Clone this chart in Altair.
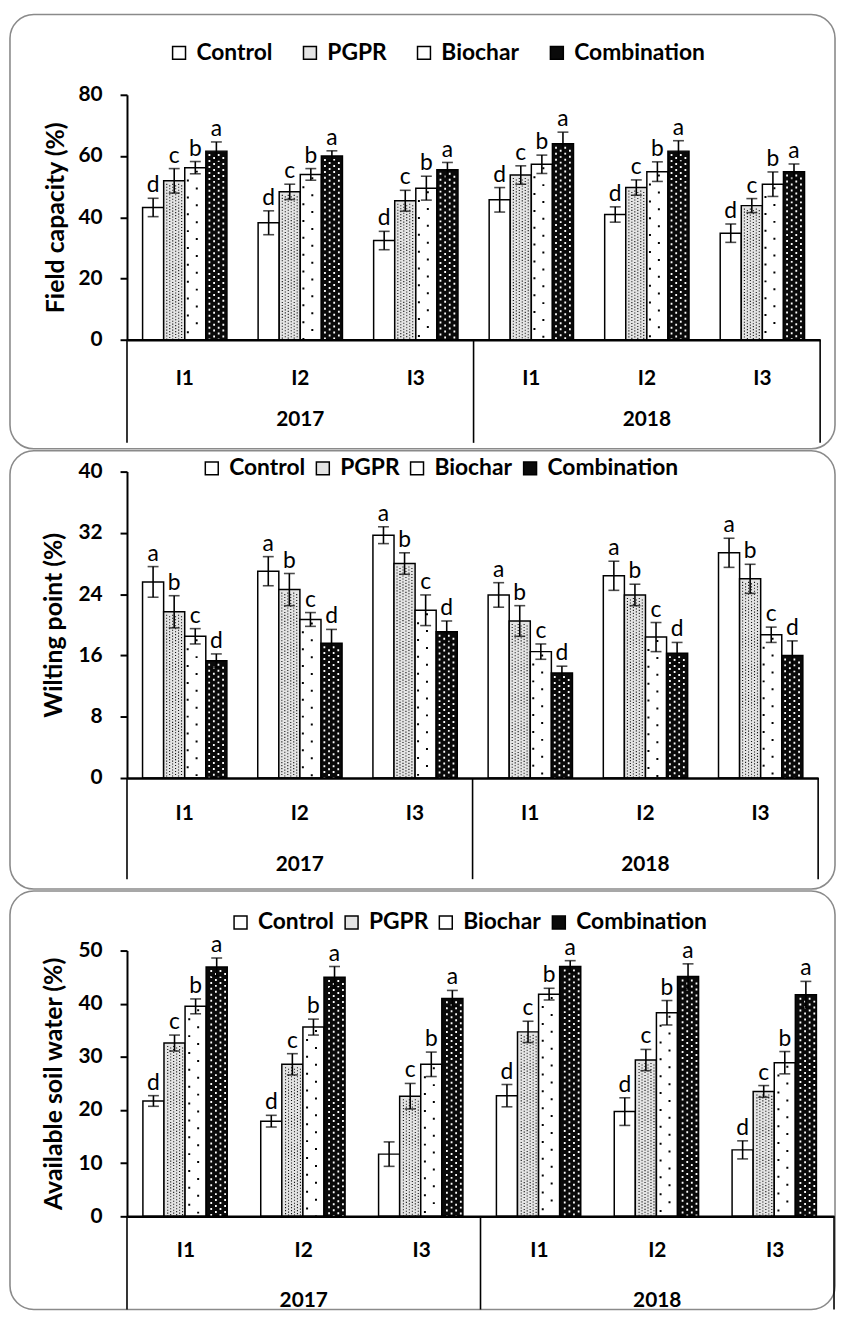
import altair as alt
import pandas as pd

years = ["2017", "2018"]
levels = ["I1", "I2", "I3"]
treatments = ["Control", "PGPR", "Biochar", "Combination"]
fills = ["#ffffff", "#e4e4e4", "#ffffff", "#0a0a0a"]

# Field capacity (%) : 2017 I1, I2, I3, 2018 I1, I2, I3
fc_mean = {
    "Control": [43.2, 38.2, 32.4, 45.7, 40.9, 34.8],
    "PGPR": [51.9, 48.3, 45.4, 53.8, 49.7, 43.8],
    "Biochar": [56.2, 54.0, 49.5, 57.3, 54.9, 50.8],
    "Combination": [61.6, 60.0, 55.5, 64.0, 61.6, 54.9],
}
fc_err = {
    "Control": [3.0, 3.9, 3.0, 4.0, 2.5, 3.0],
    "PGPR": [4.0, 2.5, 3.4, 3.0, 2.5, 2.3],
    "Biochar": [2.0, 1.9, 3.9, 3.0, 3.2, 4.0],
    "Combination": [3.0, 1.7, 2.4, 3.8, 3.4, 2.5],
}
fc_letters = {
    "Control": ["d"] * 6,
    "PGPR": ["c"] * 6,
    "Biochar": ["b"] * 6,
    "Combination": ["a"] * 6,
}

# Wilting point (%)
wp_mean = {
    "Control": [25.6, 27.0, 31.7, 23.9, 26.4, 29.4],
    "PGPR": [21.7, 24.6, 28.0, 20.5, 23.9, 26.0],
    "Biochar": [18.5, 20.7, 21.9, 16.5, 18.4, 18.7],
    "Combination": [15.3, 17.6, 19.1, 13.7, 16.3, 16.0],
}
wp_err = {
    "Control": [2.0, 1.9, 1.1, 1.6, 1.9, 1.9],
    "PGPR": [2.1, 2.1, 1.4, 2.0, 1.4, 1.9],
    "Biochar": [1.0, 0.9, 2.0, 1.0, 1.9, 1.0],
    "Combination": [0.9, 1.8, 1.4, 0.9, 1.4, 1.9],
}
wp_letters = {
    "Control": ["a"] * 6,
    "PGPR": ["b"] * 6,
    "Biochar": ["c"] * 6,
    "Combination": ["d"] * 6,
}

# Available soil water (%)
asw_mean = {
    "Control": [21.7, 17.9, 11.7, 22.7, 19.7, 12.5],
    "PGPR": [32.6, 28.6, 22.6, 34.7, 29.4, 23.5],
    "Biochar": [39.5, 35.6, 28.6, 41.8, 38.3, 28.9],
    "Combination": [46.9, 45.0, 41.0, 47.0, 45.1, 41.7],
}
asw_err = {
    "Control": [1.0, 1.1, 2.3, 2.1, 2.6, 1.7],
    "PGPR": [1.5, 2.0, 2.4, 2.0, 2.0, 1.1],
    "Biochar": [1.4, 1.5, 2.3, 1.1, 2.3, 2.1],
    "Combination": [1.7, 2.0, 1.5, 1.1, 2.4, 2.5],
}
asw_letters = {
    "Control": ["d", "d", "", "d", "d", "d"],
    "PGPR": ["c"] * 6,
    "Biochar": ["b"] * 6,
    "Combination": ["a"] * 6,
}

cats = [f"{y}-{l}" for y in years for l in levels]
FONT = "Lato"
PAD_IN = 0.27


def build_df(means, errs, letters):
    rows = []
    for t in treatments:
        for i, c in enumerate(cats):
            m = means[t][i]
            e = errs[t][i]
            rows.append(dict(cat=c, treatment=t, mean=m, lo=m - e, hi=m + e,
                             letter=letters[t][i]))
    return pd.DataFrame(rows)


def panel(df, ymax, ystep, ytitle, W, H, ftop, fbot, fright, lx, ly, colpad,
          title_pad, lab_dy, year_dy, sep_len):
    x_axis = alt.Axis(labels=False, ticks=False, title=None, domainWidth=2.5,
                      domainColor="black", zindex=1)
    xscale = alt.Scale(domain=cats, paddingInner=PAD_IN, paddingOuter=PAD_IN / 2)
    xenc = alt.X("cat:N", sort=cats, scale=xscale, axis=x_axis)
    xoff = alt.XOffset("treatment:N", sort=treatments,
                       scale=alt.Scale(domain=treatments, paddingInner=0,
                                       paddingOuter=0))
    yscale = alt.Scale(domain=[0, ymax], nice=False)
    y_axis = alt.Axis(values=list(range(0, ymax + 1, ystep)), grid=False,
                      tickSize=7, tickWidth=2, tickColor="black",
                      domainColor="black", domainWidth=2, zindex=1,
                      labelFont=FONT, labelFontSize=21, labelFontWeight="bold",
                      labelColor="black", labelPadding=18,
                      title=ytitle, titleFont=FONT, titleFontSize=25,
                      titleFontWeight="bold", titleColor="black",
                      titlePadding=title_pad)

    base = alt.Chart(df)

    frame = alt.Chart(pd.DataFrame({"k": [0]})).mark_rect(
        cornerRadius=24, fillOpacity=0, stroke="#8a8a8a", strokeWidth=1.6
    ).encode(x=alt.value(-118), x2=alt.value(W + fright),
             y=alt.value(-ftop), y2=alt.value(H + fbot))

    bars = base.mark_bar(stroke="black", strokeWidth=1.5).encode(
        x=xenc, xOffset=xoff,
        y=alt.Y("mean:Q", scale=yscale, axis=y_axis),
        color=alt.Color("treatment:N", sort=treatments,
                        scale=alt.Scale(domain=treatments, range=fills),
                        legend=alt.Legend(
                            title=None, orient="none", legendX=lx, legendY=ly,
                            direction="horizontal", symbolType="square",
                            symbolSize=170, symbolStrokeColor="black",
                            symbolStrokeWidth=1.5, symbolOpacity=1,
                            labelFont=FONT, labelFontSize=23,
                            labelFontWeight="bold", labelColor="black",
                            columnPadding=colpad, labelOffset=6)),
    )

    # texture dots inside PGPR, Biochar (black) and Combination (white) bars
    bw = W / len(cats) * (1 - PAD_IN)

    def dots(treat, dx, color, dash, dash_off, width):
        j = treatments.index(treat)
        bp = (j + 0.5) / len(treatments) + dx / bw
        return base.transform_filter(alt.datum.treatment == treat).mark_rule(
            color=color, strokeWidth=width, strokeDash=dash,
            strokeDashOffset=dash_off, strokeCap="butt", yOffset=3
        ).encode(
            x=alt.X("cat:N", sort=cats, bandPosition=bp, scale=xscale,
                    axis=x_axis),
            y=alt.Y("mean:Q", scale=yscale), y2=alt.datum(0))

    tex = [dots("PGPR", dx, "#111111", [1.1, 1.9], off, 1.1)
           for dx, off in [(-7.5, 0), (-4.5, 1.5), (-1.5, 0), (1.5, 1.5),
                           (4.5, 0), (7.5, 1.5)]]
    tex += [
        dots("Biochar", 1.5, "black", [2, 15], 0, 2),
        dots("Biochar", -7.5, "black", [2, 15], 8, 2),
        dots("Combination", -7, "white", [2, 4], 0, 1.8),
        dots("Combination", -2.3, "white", [2, 4], 3, 1.8),
        dots("Combination", 2.3, "white", [2, 4], 0, 1.8),
        dots("Combination", 7, "white", [2, 4], 3, 1.8),
    ]

    err = base.mark_rule(strokeWidth=1.6, color="black").encode(
        x=xenc, xOffset=xoff, y=alt.Y("lo:Q", scale=yscale), y2="hi:Q")
    cap_hi = base.mark_tick(size=11, thickness=1.6, color="black").encode(
        x=xenc, xOffset=xoff, y=alt.Y("hi:Q", scale=yscale))
    cap_lo = base.mark_tick(size=11, thickness=1.6, color="black").encode(
        x=xenc, xOffset=xoff, y=alt.Y("lo:Q", scale=yscale))
    letters = base.mark_text(font=FONT, fontSize=23, baseline="bottom", dy=-1,
                             color="black").encode(
        x=xenc, xOffset=xoff, y=alt.Y("hi:Q", scale=yscale), text="letter:N")

    lab_df = pd.DataFrame({"cat": cats,
                           "level": [l for y in years for l in levels]})
    lab = alt.Chart(lab_df).mark_text(font=FONT, fontSize=21, fontWeight="bold",
                                      baseline="middle", color="black").encode(
        x=xenc, y=alt.value(H + lab_dy), text="level:N")

    yr_df = pd.DataFrame({"cat": [f"{y}-{levels[1]}" for y in years],
                          "year": years})
    yr = alt.Chart(yr_df).mark_text(font=FONT, fontSize=21, fontWeight="bold",
                                    baseline="middle", color="black").encode(
        x=xenc, y=alt.value(H + year_dy), text="year:N")

    half_gap = PAD_IN / 2 * W / len(cats)
    sep_l_df = pd.DataFrame({"cat": [f"{y}-{levels[0]}" for y in years]})
    sep_r_df = pd.DataFrame({"cat": [f"{years[-1]}-{levels[-1]}"]})
    sep_l = alt.Chart(sep_l_df).mark_rule(
        strokeWidth=1.6, color="black", xOffset=-half_gap).encode(
        x=alt.X("cat:N", sort=cats, bandPosition=0, scale=xscale, axis=x_axis),
        y=alt.value(H), y2=alt.value(H + sep_len))
    sep_r = alt.Chart(sep_r_df).mark_rule(
        strokeWidth=1.6, color="black", xOffset=half_gap).encode(
        x=alt.X("cat:N", sort=cats, bandPosition=1, scale=xscale, axis=x_axis),
        y=alt.value(H), y2=alt.value(H + sep_len))

    return alt.layer(frame, bars, *tex, err, cap_hi, cap_lo, letters, lab, yr,
                     sep_l, sep_r).properties(width=W, height=H)


p1 = panel(build_df(fc_mean, fc_err, fc_letters), 80, 20, "Field capacity (%)",
           W=699, H=247, ftop=81, fbot=110, fright=15, lx=41, ly=-54, colpad=26,
           title_pad=10, lab_dy=40, year_dy=81, sep_len=104)
p2 = panel(build_df(wp_mean, wp_err, wp_letters), 40, 8, "Wilting point (%)",
           W=697, H=309, ftop=21, fbot=112, fright=17, lx=74, ly=-15, colpad=6,
           title_pad=12, lab_dy=36, year_dy=88, sep_len=102)
p3 = panel(build_df(asw_mean, asw_err, asw_letters), 50, 10,
           "Available soil water (%)",
           W=713, H=268, ftop=60, fbot=94, fright=1, lx=103, ly=-40, colpad=6,
           title_pad=12, lab_dy=35, year_dy=85, sep_len=94)

chart = alt.vconcat(p1, p2, p3, spacing=0).resolve_scale(
    x="independent", y="independent"
).resolve_legend(color="independent").configure(
    padding={"top": 0, "left": 1, "right": 0, "bottom": 0}, font=FONT
).configure_view(stroke=None)

chart.save("out.html", embed_options={"renderer": "svg", "actions": False})
